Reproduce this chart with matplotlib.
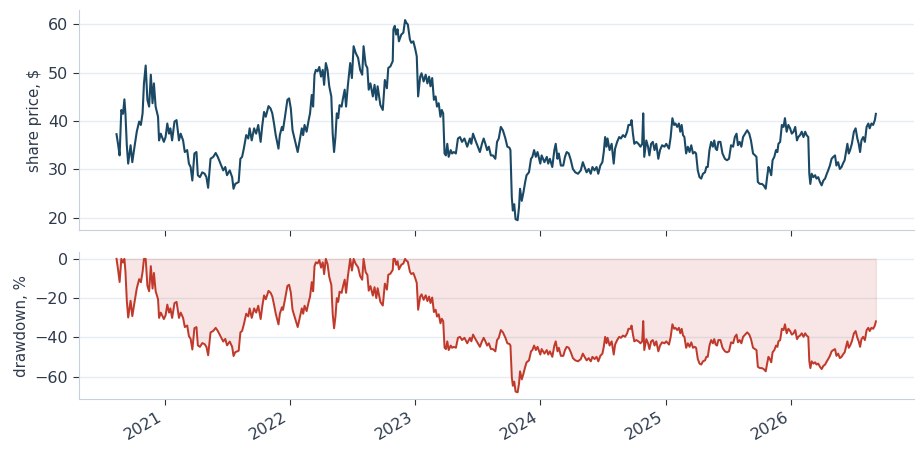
import matplotlib
matplotlib.use("Agg")
import matplotlib.pyplot as plt
import matplotlib.dates as mdates
import pandas as pd
from matplotlib.ticker import MultipleLocator

# share price, (date, $)
dates = [
    "2020-08-14", "2020-08-19", "2020-08-23", "2020-08-28", "2020-09-02", "2020-09-06",
    "2020-09-09", "2020-09-13", "2020-09-17", "2020-09-24", "2020-09-29", "2020-10-04",
    "2020-10-12", "2020-10-19", "2020-10-24", "2020-10-29", "2020-11-02", "2020-11-07",
    "2020-11-12", "2020-11-17", "2020-11-22", "2020-11-27", "2020-12-01", "2020-12-06",
    "2020-12-13", "2020-12-16", "2020-12-21", "2020-12-30", "2021-01-04", "2021-01-09",
    "2021-01-14", "2021-01-18", "2021-01-23", "2021-01-30", "2021-02-05", "2021-02-12",
    "2021-02-17", "2021-02-24", "2021-03-01", "2021-03-08", "2021-03-13", "2021-03-18",
    "2021-03-23", "2021-03-29", "2021-04-04", "2021-04-08", "2021-04-14", "2021-04-21",
    "2021-04-28", "2021-05-03", "2021-05-08", "2021-05-15", "2021-05-23", "2021-05-30",
    "2021-06-05", "2021-06-13", "2021-06-21", "2021-06-27", "2021-07-02", "2021-07-10",
    "2021-07-17", "2021-07-21", "2021-07-26", "2021-08-05", "2021-08-10", "2021-08-15",
    "2021-08-20", "2021-08-27", "2021-09-02", "2021-09-06", "2021-09-12", "2021-09-19",
    "2021-09-25", "2021-10-01", "2021-10-08", "2021-10-13", "2021-10-18", "2021-10-23",
    "2021-10-31", "2021-11-06", "2021-11-11", "2021-11-16", "2021-11-21", "2021-11-29",
    "2021-12-03", "2021-12-09", "2021-12-12", "2021-12-18", "2021-12-25", "2021-12-30",
    "2022-01-04", "2022-01-09", "2022-01-16", "2022-01-24", "2022-01-30", "2022-02-05",
    "2022-02-09", "2022-02-13", "2022-02-19", "2022-02-25", "2022-03-01", "2022-03-06",
    "2022-03-10", "2022-03-14", "2022-03-18", "2022-03-23", "2022-03-28", "2022-04-02",
    "2022-04-07", "2022-04-11", "2022-04-16", "2022-04-21", "2022-04-26", "2022-05-02",
    "2022-05-06", "2022-05-10", "2022-05-14", "2022-05-18", "2022-05-22", "2022-05-26",
    "2022-06-01", "2022-06-05", "2022-06-10", "2022-06-14", "2022-06-19", "2022-06-26",
    "2022-07-01", "2022-07-06", "2022-07-12", "2022-07-19", "2022-07-25", "2022-07-31",
    "2022-08-04", "2022-08-10", "2022-08-15", "2022-08-19", "2022-08-24", "2022-08-31",
    "2022-09-05", "2022-09-10", "2022-09-14", "2022-09-22", "2022-09-29", "2022-10-05",
    "2022-10-11", "2022-10-15", "2022-10-21", "2022-10-28", "2022-10-30", "2022-11-03",
    "2022-11-07", "2022-11-11", "2022-11-15", "2022-11-22", "2022-11-28", "2022-12-03",
    "2022-12-07", "2022-12-11", "2022-12-17", "2022-12-21", "2022-12-27", "2023-01-01",
    "2023-01-06", "2023-01-10", "2023-01-16", "2023-01-20", "2023-01-26", "2023-02-01",
    "2023-02-06", "2023-02-11", "2023-02-15", "2023-02-20", "2023-02-25", "2023-03-02",
    "2023-03-06", "2023-03-11", "2023-03-16", "2023-03-20", "2023-03-24", "2023-03-28",
    "2023-04-01", "2023-04-05", "2023-04-09", "2023-04-15", "2023-04-19", "2023-04-24",
    "2023-04-30", "2023-05-06", "2023-05-12", "2023-05-18", "2023-05-25", "2023-06-02",
    "2023-06-10", "2023-06-14", "2023-06-19", "2023-06-26", "2023-07-03", "2023-07-09",
    "2023-07-15", "2023-07-20", "2023-07-25", "2023-07-30", "2023-08-04", "2023-08-10",
    "2023-08-16", "2023-08-23", "2023-08-28", "2023-09-02", "2023-09-08", "2023-09-14",
    "2023-09-21", "2023-09-27", "2023-10-03", "2023-10-06", "2023-10-10", "2023-10-13",
    "2023-10-17", "2023-10-21", "2023-10-27", "2023-10-31", "2023-11-03", "2023-11-08",
    "2023-11-13", "2023-11-18", "2023-11-22", "2023-11-29", "2023-12-05", "2023-12-09",
    "2023-12-14", "2023-12-19", "2023-12-24", "2024-01-01", "2024-01-05", "2024-01-13",
    "2024-01-20", "2024-01-24", "2024-01-29", "2024-02-05", "2024-02-11", "2024-02-15",
    "2024-02-20", "2024-02-24", "2024-03-01", "2024-03-08", "2024-03-13", "2024-03-18",
    "2024-03-24", "2024-03-30", "2024-04-05", "2024-04-12", "2024-04-20", "2024-04-28",
    "2024-05-04", "2024-05-09", "2024-05-15", "2024-05-21", "2024-05-27", "2024-06-01",
    "2024-06-07", "2024-06-13", "2024-06-18", "2024-06-24", "2024-06-30", "2024-07-04",
    "2024-07-08", "2024-07-12", "2024-07-15", "2024-07-21", "2024-07-27", "2024-08-02",
    "2024-08-06", "2024-08-12", "2024-08-18", "2024-08-23", "2024-08-29", "2024-09-04",
    "2024-09-10", "2024-09-14", "2024-09-20", "2024-09-23", "2024-09-27", "2024-10-01",
    "2024-10-07", "2024-10-13", "2024-10-19", "2024-10-24", "2024-10-27", "2024-10-30",
    "2024-11-05", "2024-11-10", "2024-11-14", "2024-11-19", "2024-11-24", "2024-11-29",
    "2024-12-04", "2024-12-10", "2024-12-15", "2024-12-21", "2024-12-28", "2025-01-02",
    "2025-01-10", "2025-01-15", "2025-01-20", "2025-01-25", "2025-01-29", "2025-02-03",
    "2025-02-08", "2025-02-12", "2025-02-16", "2025-02-20", "2025-02-24", "2025-03-01",
    "2025-03-06", "2025-03-11", "2025-03-16", "2025-03-21", "2025-03-26", "2025-03-30",
    "2025-04-04", "2025-04-09", "2025-04-14", "2025-04-19", "2025-04-25", "2025-04-29",
    "2025-05-03", "2025-05-08", "2025-05-13", "2025-05-18", "2025-05-22", "2025-05-26",
    "2025-05-30", "2025-06-03", "2025-06-09", "2025-06-15", "2025-06-22", "2025-06-28",
    "2025-07-04", "2025-07-10", "2025-07-16", "2025-07-21", "2025-07-26", "2025-07-30",
    "2025-08-04", "2025-08-09", "2025-08-14", "2025-08-20", "2025-08-26", "2025-09-01",
    "2025-09-06", "2025-09-12", "2025-09-18", "2025-09-22", "2025-09-26", "2025-10-02",
    "2025-10-08", "2025-10-13", "2025-10-19", "2025-10-23", "2025-10-27", "2025-10-31",
    "2025-11-04", "2025-11-08", "2025-11-13", "2025-11-18", "2025-11-22", "2025-11-25",
    "2025-11-30", "2025-12-05", "2025-12-10", "2025-12-14", "2025-12-19", "2025-12-24",
    "2025-12-29", "2026-01-03", "2026-01-08", "2026-01-13", "2026-01-18", "2026-01-22",
    "2026-01-27", "2026-02-01", "2026-02-06", "2026-02-11", "2026-02-15", "2026-02-20",
    "2026-02-23", "2026-02-26", "2026-03-02", "2026-03-07", "2026-03-12", "2026-03-16",
    "2026-03-21", "2026-03-26", "2026-03-31", "2026-04-05", "2026-04-10", "2026-04-15",
    "2026-04-19", "2026-04-24", "2026-04-29", "2026-05-04", "2026-05-09", "2026-05-13",
    "2026-05-18", "2026-05-23", "2026-05-28", "2026-06-01", "2026-06-06", "2026-06-11",
    "2026-06-14", "2026-06-18", "2026-06-22", "2026-06-27", "2026-07-03", "2026-07-08",
    "2026-07-13", "2026-07-17", "2026-07-21", "2026-07-25", "2026-07-30", "2026-08-04",
    "2026-08-09", "2026-08-14", "2026-08-18", "2026-08-23", "2026-08-28", "2026-09-02",
    "2026-09-05",
]

prices = [
    37.3, 35.0, 32.9, 42.3, 41.5, 44.5,
    41.6, 35.0, 31.2, 35.0, 31.5, 34.0,
    37.8, 39.9, 39.2, 41.6, 47.8, 51.5,
    44.4, 43.0, 49.6, 43.7, 47.8, 43.0,
    40.9, 36.0, 37.4, 35.7, 36.7, 39.5,
    37.4, 38.5, 36.0, 39.9, 40.2, 36.0,
    37.4, 36.0, 33.6, 34.0, 31.2, 30.5,
    27.7, 33.3, 33.6, 28.8, 28.4, 29.4,
    29.1, 28.4, 26.2, 32.2, 32.6, 33.4,
    32.6, 31.2, 29.8, 30.5, 28.8, 29.8,
    28.4, 26.0, 27.0, 27.4, 32.2, 32.6,
    34.3, 37.1, 36.4, 38.5, 36.0, 38.5,
    37.4, 39.2, 35.7, 39.2, 41.9, 40.9,
    43.1, 42.6, 41.6, 39.5, 37.1, 34.3,
    37.1, 38.8, 38.1, 40.9, 44.4, 44.7,
    42.6, 38.1, 36.0, 33.6, 36.0, 38.5,
    37.1, 39.2, 37.8, 40.2, 41.6, 45.4,
    43.0, 49.6, 50.6, 50.3, 51.2, 49.2,
    50.6, 47.5, 52.0, 50.6, 47.2, 45.1,
    37.4, 33.6, 36.7, 41.6, 40.6, 43.3,
    43.0, 44.7, 46.5, 43.0, 47.2, 52.0,
    48.9, 55.5, 54.1, 53.1, 50.6, 49.6,
    55.5, 51.7, 51.0, 46.5, 47.8, 45.1,
    47.5, 44.4, 47.2, 43.3, 42.3, 48.5,
    46.8, 51.0, 51.3, 52.4, 59.0, 59.7,
    57.9, 59.0, 56.5, 57.9, 58.3, 60.9,
    60.3, 60.0, 56.9, 56.2, 56.5, 55.1,
    53.4, 45.1, 49.2, 49.9, 48.2, 49.6,
    47.8, 49.2, 47.2, 48.9, 44.4, 45.1,
    43.0, 43.7, 40.9, 42.3, 41.6, 33.3,
    32.9, 35.3, 32.6, 34.0, 33.3, 33.6,
    33.3, 36.4, 36.7, 35.7, 36.4, 34.7,
    36.4, 35.3, 37.4, 36.0, 34.7, 33.6,
    35.3, 36.4, 35.3, 34.0, 34.7, 32.9,
    32.9, 32.2, 35.7, 36.4, 38.8, 38.1,
    36.5, 34.7, 34.5, 34.0, 24.2, 21.5,
    22.8, 19.7, 19.5, 22.2, 26.0, 23.5,
    25.3, 27.4, 28.8, 29.4, 32.2, 32.6,
    34.0, 32.6, 33.6, 31.2, 32.9, 31.5,
    32.6, 31.2, 32.2, 30.5, 34.0, 35.3,
    32.2, 33.3, 30.8, 30.8, 32.6, 33.6,
    33.3, 31.9, 30.1, 29.4, 29.1, 29.8,
    31.5, 30.5, 29.4, 30.1, 29.1, 30.5,
    29.8, 30.5, 29.1, 30.8, 31.5, 33.6,
    36.7, 34.7, 36.4, 34.0, 35.3, 31.2,
    34.3, 35.7, 36.7, 36.4, 37.1, 36.7,
    37.8, 39.2, 39.2, 40.2, 37.4, 35.3,
    35.7, 35.3, 34.7, 35.3, 41.6, 32.6,
    36.0, 34.7, 32.9, 35.3, 35.7, 34.0,
    35.3, 32.2, 34.0, 35.0, 34.7, 35.3,
    34.3, 36.7, 40.6, 39.2, 39.5, 38.8,
    39.5, 37.8, 39.2, 37.1, 36.7, 33.3,
    34.7, 33.6, 35.0, 33.3, 33.6, 33.3,
    29.8, 28.4, 28.1, 29.1, 29.4, 30.5,
    30.5, 34.0, 35.7, 34.7, 36.0, 34.3,
    34.0, 35.7, 35.7, 33.3, 32.2, 31.9,
    32.2, 35.0, 34.7, 36.7, 37.4, 35.0,
    35.7, 34.7, 36.7, 37.4, 38.1, 37.4,
    36.0, 33.3, 32.9, 32.6, 27.4, 27.0,
    27.0, 26.7, 26.0, 28.4, 30.5, 29.8,
    28.8, 31.9, 32.6, 34.0, 33.6, 35.3,
    35.7, 39.2, 38.8, 40.6, 37.8, 39.2,
    38.5, 37.4, 37.8, 38.8, 36.0, 36.7,
    37.1, 37.8, 36.7, 37.8, 37.1, 36.7,
    29.1, 27.0, 29.1, 28.4, 28.8, 28.1,
    28.4, 27.4, 26.7, 27.7, 28.1, 29.1,
    29.8, 30.8, 32.2, 32.6, 32.9, 30.8,
    31.5, 30.1, 30.5, 31.2, 31.9, 34.0,
    35.3, 33.3, 34.0, 35.3, 37.8, 38.5,
    36.4, 35.3, 33.6, 36.0, 36.7, 35.7,
    38.8, 39.5, 38.5, 39.5, 39.2, 40.2,
    41.5,
]

PRICE_COLOR = "#1b4965"
DD_COLOR = "#c0392b"
SPINE = "#c5d1de"
GRID = "#e6ecf3"
TEXT = "#2e3a4c"

s = pd.Series(prices, index=pd.to_datetime(dates))
drawdown = (s / s.cummax() - 1) * 100

fig, (ax1, ax2) = plt.subplots(2, 1, sharex=True, figsize=(9.24, 4.58), dpi=100,
                               gridspec_kw={"height_ratios": [3, 2]})
fig.subplots_adjust(left=0.085, right=0.989, top=0.978, bottom=0.129, hspace=0.12)

ax1.plot(s.index, s.values, color=PRICE_COLOR, lw=1.5)
ax1.set_ylabel("share price, $", fontsize=10.8, color=TEXT)
ax1.yaxis.set_major_locator(MultipleLocator(10))

ax2.fill_between(drawdown.index, drawdown.values, 0, color=DD_COLOR, alpha=0.12)
ax2.plot(drawdown.index, drawdown.values, color=DD_COLOR, lw=1.4)
ax2.set_ylabel("drawdown, %", fontsize=10.8, color=TEXT)
ax2.yaxis.set_major_locator(MultipleLocator(20))

ax2.xaxis.set_major_locator(mdates.YearLocator())
ax2.xaxis.set_major_formatter(mdates.DateFormatter("%Y"))

for ax in (ax1, ax2):
    ax.grid(axis="y", color=GRID, lw=1)
    ax.set_axisbelow(True)
    for side in ("top", "right"):
        ax.spines[side].set_visible(False)
    for side in ("left", "bottom"):
        ax.spines[side].set_color(SPINE)
    ax.tick_params(labelsize=11.5, labelcolor=TEXT, length=4, color="#333333")

plt.setp(ax2.get_xticklabels(), rotation=30, ha="right")

fig.savefig("out.png")
